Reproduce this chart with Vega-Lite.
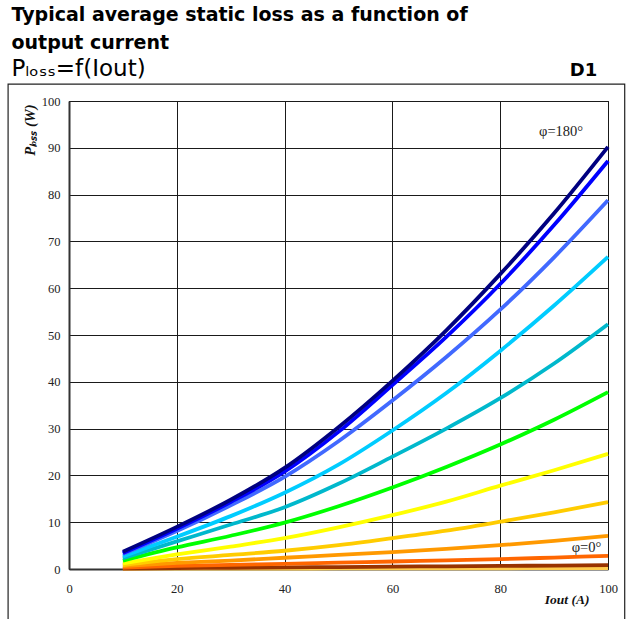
{
  "$schema": "https://vega.github.io/schema/vega-lite/v6.json",
  "width": 539,
  "height": 468,
  "padding": {"left": 7, "top": 6, "right": 8, "bottom": 0},
  "background": "white",
  "title": {
    "text": ["Typical average static loss as a function of", "output current"],
    "subtitle": "Pₗₒₛₛ=f(Iout)",
    "anchor": "start",
    "frame": "bounds",
    "font": "DejaVu Sans",
    "fontSize": 19,
    "fontWeight": "bold",
    "lineHeight": 28,
    "color": "#000",
    "subtitleFont": "DejaVu Sans",
    "subtitleFontSize": 23,
    "subtitleColor": "#000",
    "subtitlePadding": 5,
    "offset": -19,
    "dx": 4
  },
  "config": {
    "view": {"stroke": "#000", "strokeWidth": 1},
    "axis": {
      "grid": true,
      "gridColor": "#1a1a1a",
      "gridWidth": 1,
      "gridOpacity": 1,
      "ticks": false,
      "domainColor": "#333",
      "domainWidth": 2,
      "labelFont": "Liberation Serif",
      "labelFontSize": 12.5,
      "labelColor": "#222",
      "labelFlush": false,
      "labelOverlap": false,
      "titleFont": "Liberation Serif",
      "titleFontSize": 13.5,
      "titleFontWeight": "bold",
      "titleFontStyle": "italic",
      "titleColor": "#111"
    }
  },
  "datasets": {
    "curves": [
      {"s": "s01", "I": 10, "P": 0.05}, {"s": "s01", "I": 20, "P": 0.07}, {"s": "s01", "I": 30, "P": 0.09}, {"s": "s01", "I": 40, "P": 0.1}, {"s": "s01", "I": 50, "P": 0.12}, {"s": "s01", "I": 60, "P": 0.13}, {"s": "s01", "I": 70, "P": 0.15}, {"s": "s01", "I": 80, "P": 0.16}, {"s": "s01", "I": 90, "P": 0.18}, {"s": "s01", "I": 100, "P": 0.2},
      {"s": "s02", "I": 10, "P": 0.1}, {"s": "s02", "I": 20, "P": 0.18}, {"s": "s02", "I": 30, "P": 0.26}, {"s": "s02", "I": 40, "P": 0.34}, {"s": "s02", "I": 50, "P": 0.42}, {"s": "s02", "I": 60, "P": 0.5}, {"s": "s02", "I": 70, "P": 0.58}, {"s": "s02", "I": 80, "P": 0.66}, {"s": "s02", "I": 90, "P": 0.74}, {"s": "s02", "I": 100, "P": 0.82},
      {"s": "s03", "I": 10, "P": 0.3}, {"s": "s03", "I": 20, "P": 0.65}, {"s": "s03", "I": 30, "P": 0.9}, {"s": "s03", "I": 40, "P": 1.1}, {"s": "s03", "I": 50, "P": 1.35}, {"s": "s03", "I": 60, "P": 1.6}, {"s": "s03", "I": 70, "P": 1.85}, {"s": "s03", "I": 80, "P": 2.1}, {"s": "s03", "I": 90, "P": 2.45}, {"s": "s03", "I": 100, "P": 2.8},
      {"s": "s04", "I": 10, "P": 0.6}, {"s": "s04", "I": 20, "P": 1.3}, {"s": "s04", "I": 30, "P": 1.8}, {"s": "s04", "I": 40, "P": 2.4}, {"s": "s04", "I": 50, "P": 3.0}, {"s": "s04", "I": 60, "P": 3.6}, {"s": "s04", "I": 70, "P": 4.3}, {"s": "s04", "I": 80, "P": 5.1}, {"s": "s04", "I": 90, "P": 6.0}, {"s": "s04", "I": 100, "P": 7.1},
      {"s": "s05", "I": 10, "P": 0.85}, {"s": "s05", "I": 20, "P": 2.1}, {"s": "s05", "I": 30, "P": 3.0}, {"s": "s05", "I": 40, "P": 3.9}, {"s": "s05", "I": 50, "P": 5.1}, {"s": "s05", "I": 60, "P": 6.6}, {"s": "s05", "I": 70, "P": 8.2}, {"s": "s05", "I": 80, "P": 10.1}, {"s": "s05", "I": 90, "P": 12.1}, {"s": "s05", "I": 100, "P": 14.3},
      {"s": "s06", "I": 10, "P": 1.2}, {"s": "s06", "I": 20, "P": 3.1}, {"s": "s06", "I": 30, "P": 4.8}, {"s": "s06", "I": 40, "P": 6.6}, {"s": "s06", "I": 50, "P": 8.9}, {"s": "s06", "I": 60, "P": 11.5}, {"s": "s06", "I": 70, "P": 14.4}, {"s": "s06", "I": 80, "P": 17.8}, {"s": "s06", "I": 90, "P": 21.1}, {"s": "s06", "I": 100, "P": 24.6},
      {"s": "s07", "I": 10, "P": 1.8}, {"s": "s07", "I": 20, "P": 4.6}, {"s": "s07", "I": 30, "P": 7.1}, {"s": "s07", "I": 40, "P": 9.9}, {"s": "s07", "I": 50, "P": 13.4}, {"s": "s07", "I": 60, "P": 17.4}, {"s": "s07", "I": 70, "P": 21.8}, {"s": "s07", "I": 80, "P": 26.6}, {"s": "s07", "I": 90, "P": 31.9}, {"s": "s07", "I": 100, "P": 37.8},
      {"s": "s08", "I": 10, "P": 2.3}, {"s": "s08", "I": 20, "P": 5.9}, {"s": "s08", "I": 30, "P": 9.5}, {"s": "s08", "I": 40, "P": 13.2}, {"s": "s08", "I": 50, "P": 18.2}, {"s": "s08", "I": 60, "P": 24.0}, {"s": "s08", "I": 70, "P": 30.0}, {"s": "s08", "I": 80, "P": 36.5}, {"s": "s08", "I": 90, "P": 43.9}, {"s": "s08", "I": 100, "P": 52.3},
      {"s": "s09", "I": 10, "P": 2.7}, {"s": "s09", "I": 20, "P": 6.9}, {"s": "s09", "I": 30, "P": 11.3}, {"s": "s09", "I": 40, "P": 16.3}, {"s": "s09", "I": 50, "P": 22.3}, {"s": "s09", "I": 60, "P": 29.6}, {"s": "s09", "I": 70, "P": 37.6}, {"s": "s09", "I": 80, "P": 46.6}, {"s": "s09", "I": 90, "P": 56.3}, {"s": "s09", "I": 100, "P": 66.7},
      {"s": "s10", "I": 10, "P": 3.2}, {"s": "s10", "I": 20, "P": 8.1}, {"s": "s10", "I": 30, "P": 13.6}, {"s": "s10", "I": 40, "P": 19.7}, {"s": "s10", "I": 50, "P": 27.3}, {"s": "s10", "I": 60, "P": 36.0}, {"s": "s10", "I": 70, "P": 45.3}, {"s": "s10", "I": 80, "P": 55.4}, {"s": "s10", "I": 90, "P": 66.6}, {"s": "s10", "I": 100, "P": 78.8},
      {"s": "s11", "I": 10, "P": 3.4}, {"s": "s11", "I": 20, "P": 8.6}, {"s": "s11", "I": 30, "P": 14.3}, {"s": "s11", "I": 40, "P": 20.8}, {"s": "s11", "I": 50, "P": 29.3}, {"s": "s11", "I": 60, "P": 39.3}, {"s": "s11", "I": 70, "P": 49.6}, {"s": "s11", "I": 80, "P": 60.9}, {"s": "s11", "I": 90, "P": 73.5}, {"s": "s11", "I": 100, "P": 87.2},
      {"s": "s12", "I": 10, "P": 3.7}, {"s": "s12", "I": 20, "P": 9.0}, {"s": "s12", "I": 30, "P": 14.8}, {"s": "s12", "I": 40, "P": 21.6}, {"s": "s12", "I": 50, "P": 30.3}, {"s": "s12", "I": 60, "P": 40.2}, {"s": "s12", "I": 70, "P": 51.0}, {"s": "s12", "I": 80, "P": 63.0}, {"s": "s12", "I": 90, "P": 76.0}, {"s": "s12", "I": 100, "P": 90.2}
    ],
    "one": [{}]
  },
  "layer": [
    {
      "data": {"name": "curves"},
      "mark": {"type": "line", "interpolate": "monotone", "strokeWidth": 3.8},
      "encoding": {
        "x": {
          "field": "I", "type": "quantitative",
          "scale": {"domain": [0, 100], "nice": false, "zero": false},
          "axis": {
            "values": [0, 20, 40, 60, 80, 100],
            "labelPadding": 13,
            "title": "Iout (A)",
            "titleX": 520,
            "titleY": 30,
            "titleAlign": "right",
            "titleBaseline": "middle",
            "titleAnchor": null
          }
        },
        "y": {
          "field": "P", "type": "quantitative",
          "scale": {"domain": [0, 100], "nice": false, "zero": false},
          "axis": {
            "values": [0, 10, 20, 30, 40, 50, 60, 70, 80, 90, 100],
            "labelPadding": 9,
            "title": "Pₗₒₛₛ (W)",
            "titleFontSize": 14.5,
            "titleX": -39,
            "titleY": 3,
            "titleAngle": -90,
            "titleAlign": "right",
            "titleBaseline": "middle"
          }
        },
        "color": {
          "field": "s", "type": "nominal", "legend": null,
          "scale": {
            "domain": ["s01", "s02", "s03", "s04", "s05", "s06", "s07", "s08", "s09", "s10", "s11", "s12"],
            "range": ["#ffcc4d", "#993300", "#ff6600", "#ff9900", "#ffcc00", "#ffff00", "#00ff00", "#00b8cc", "#00ccff", "#4169ff", "#0000ff", "#000080"]
          }
        }
      }
    },
    {
      "data": {"name": "one"},
      "mark": {"type": "text", "font": "Liberation Serif", "fontSize": 14.5, "color": "#222", "align": "center", "baseline": "middle"},
      "encoding": {"x": {"datum": 91.3}, "y": {"datum": 93.4}, "text": {"value": "φ=180°"}}
    },
    {
      "data": {"name": "one"},
      "mark": {"type": "text", "font": "Liberation Serif", "fontSize": 14.5, "color": "#222", "align": "center", "baseline": "middle"},
      "encoding": {"x": {"datum": 96.0}, "y": {"datum": 4.4}, "text": {"value": "φ=0°"}}
    },
    {
      "data": {"name": "one"},
      "mark": {"type": "text", "font": "DejaVu Sans", "fontSize": 18, "fontWeight": "bold", "color": "#000", "align": "center", "baseline": "middle"},
      "encoding": {"x": {"datum": 95.45}, "y": {"datum": 106.4}, "text": {"value": "D1"}}
    },
    {
      "data": {"name": "one"},
      "mark": {"type": "rect", "filled": false, "stroke": "#222", "strokeWidth": 1.2},
      "encoding": {"x": {"datum": -11.3}, "x2": {"datum": 103.1}, "y": {"datum": 103.6}, "y2": {"datum": -12}}
    }
  ]
}
